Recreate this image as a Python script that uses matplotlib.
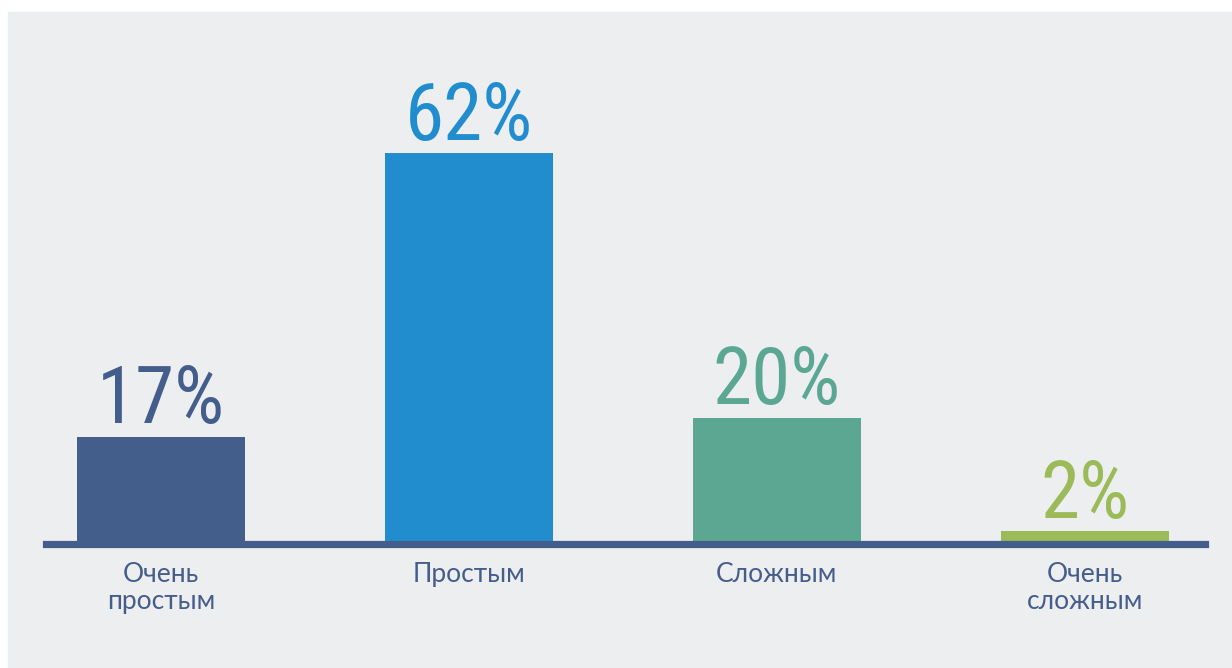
import matplotlib.pyplot as plt
from matplotlib.patches import Rectangle

# survey answers
categories = ['Очень\nпростым', 'Простым', 'Сложным', 'Очень\nсложным']
values = [17, 62, 20, 2]
bar_colors = ['#445e8b', '#228dce', '#5ba792', '#9bbb59']
axis_color = '#455d8a'
bg_color = '#edeef0'

W, H = 1232, 668
fig = plt.figure(figsize=(W / 100, H / 100), dpi=100)
fig.patch.set_facecolor('white')
fig.patches.append(Rectangle((8 / W, 0), 1 - 8 / W, (H - 12) / H,
                             transform=fig.transFigure, color=bg_color, zorder=-10))

# axes: zero line at y=544 px, spans x 46..1205 px
ax = fig.add_axes([46 / W, (H - 544) / H, 1159 / W, 532 / H])
ax.set_facecolor('none')
ax.set_xlim(-0.373, 3.39)
ax.set_ylim(0, 532 / 6.3)
for s in ax.spines.values():
    s.set_visible(False)
ax.set_xticks([])
ax.set_yticks([])

x = range(len(values))
ax.bar(x, values, width=0.545, color=bar_colors, zorder=2)
ax.axhline(0, color=axis_color, lw=5.2, zorder=3, clip_on=False)

for i, v in enumerate(values):
    ax.annotate(f'{v}%', (i, v), xytext=(0, 10), textcoords='offset points',
                ha='center', va='baseline', fontsize=57, color=bar_colors[i],
                family=['Roboto Condensed', 'DejaVu Sans'], fontstretch='condensed')
    ax.annotate(categories[i], (i, 0), xytext=(0, -13), textcoords='offset points',
                ha='center', va='top', fontsize=19, color=axis_color,
                linespacing=1.1, family=['Lato', 'DejaVu Sans'], clip_on=False)

fig.savefig('out.png', dpi=100)
